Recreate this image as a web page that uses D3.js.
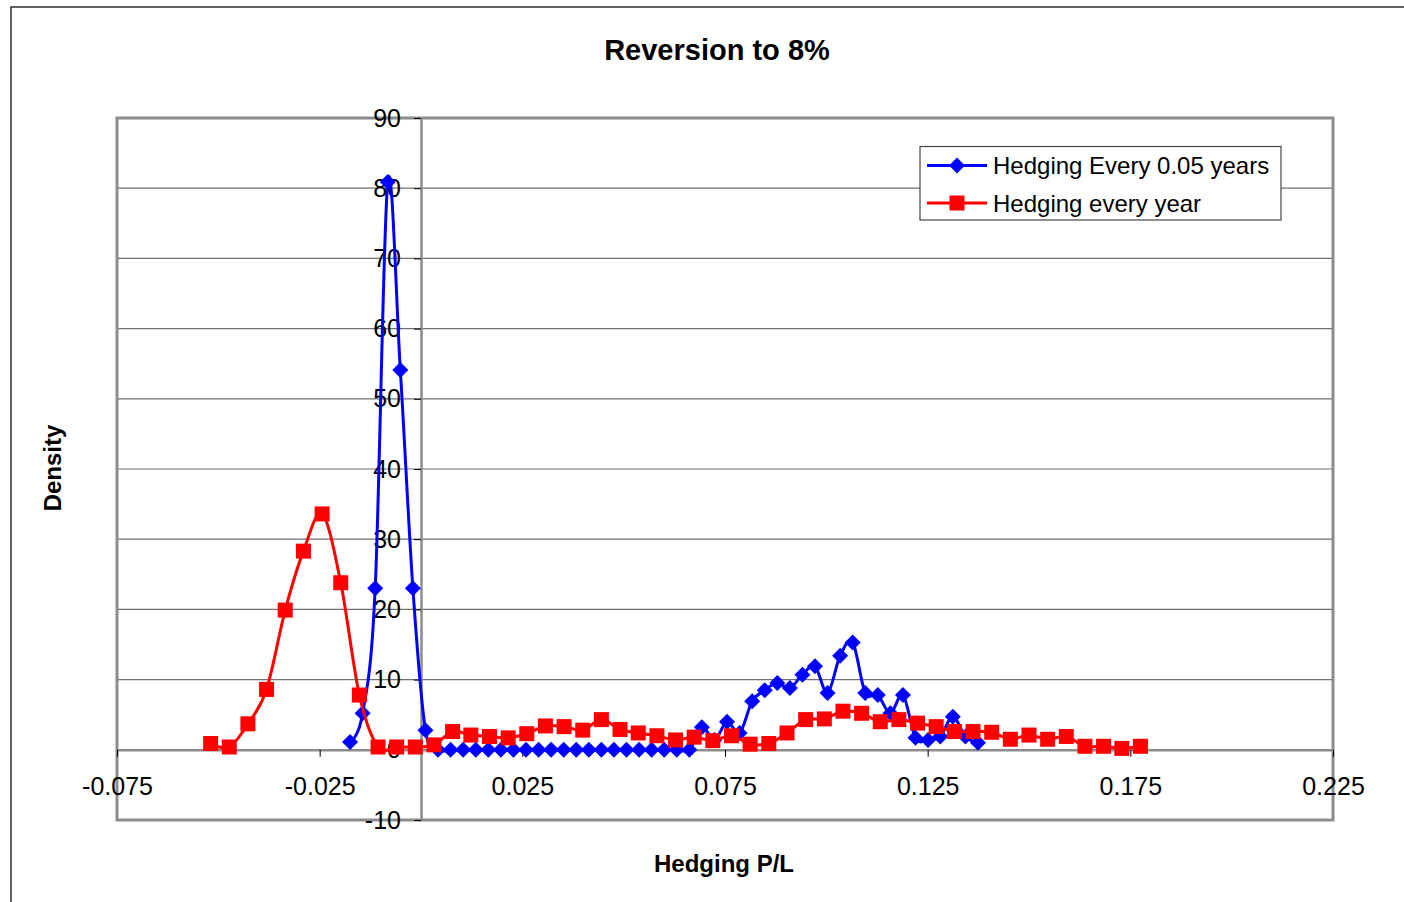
<!DOCTYPE html>
<html>
<head>
<meta charset="utf-8">
<script src="https://cdn.jsdelivr.net/npm/d3@7"></script>
<style>
  html, body { margin: 0; padding: 0; background: #fff; }
  svg { display: block; font-family: "Liberation Sans", Arial, Helvetica, sans-serif; }
</style>
</head>
<body>
<svg id="chart" width="1404" height="902"></svg>
<script>
// ---- Data ----
const chartTitle = "Reversion to 8%";
const xTitle = "Hedging P/L";
const yTitle = "Density";
const seriesNames = ["Hedging Every 0.05 years", "Hedging every year"];

const xTickValues = [-0.075, -0.025, 0.025, 0.075, 0.125, 0.175, 0.225];
const xTickLabels = ["-0.075", "-0.025", "0.025", "0.075", "0.125", "0.175", "0.225"];
const yTickValues = [-10, 0, 10, 20, 30, 40, 50, 60, 70, 80, 90];
const yTickLabels = ["-10", "0", "10", "20", "30", "40", "50", "60", "70", "80", "90"];

// Hedging every 0.05 years (blue)
const blueX = [-0.0175, -0.0144, -0.0113, -0.0082, -0.0051, -0.0020, 0.0011, 0.0042, 0.0073, 0.0104,
               0.0135, 0.0166, 0.0197, 0.0228, 0.0259, 0.0290, 0.0321, 0.0352, 0.0383, 0.0414,
               0.0445, 0.0476, 0.0507, 0.0538, 0.0569, 0.0600, 0.0631, 0.0662, 0.0693, 0.0724,
               0.0755, 0.0786, 0.0817, 0.0848, 0.0879, 0.0910, 0.0941, 0.0972, 0.1003, 0.1034,
               0.1065, 0.1096, 0.1127, 0.1158, 0.1189, 0.1220, 0.1251, 0.1281, 0.1312, 0.1343,
               0.1374];
const blueY = [1.1, 5.2, 23.0, 80.9, 54.1, 23.0, 2.8, 0, 0, 0,
               0, 0, 0, 0, 0, 0, 0, 0, 0, 0,
               0, 0, 0, 0, 0, 0, 0, 0, 3.2, 1.4,
               4.0, 2.4, 6.9, 8.5, 9.5, 8.8, 10.7, 11.9, 8.1, 13.4,
               15.3, 8.1, 7.8, 5.2, 7.8, 1.7, 1.4, 1.9, 4.7, 1.9,
               1.0];

// Hedging every year (red)
const redX = [-0.0519, -0.0473, -0.0427, -0.0381, -0.0335, -0.0290, -0.0244, -0.0198, -0.0152, -0.0106,
              -0.0060, -0.0014, 0.0032, 0.0078, 0.0123, 0.0169, 0.0215, 0.0261, 0.0307, 0.0353,
              0.0399, 0.0445, 0.0491, 0.0536, 0.0582, 0.0628, 0.0674, 0.0720, 0.0766, 0.0812,
              0.0858, 0.0903, 0.0949, 0.0995, 0.1041, 0.1087, 0.1133, 0.1179, 0.1225, 0.1271,
              0.1316, 0.1362, 0.1408, 0.1454, 0.1500, 0.1546, 0.1592, 0.1638, 0.1684, 0.1729,
              0.1775];
const redY = [0.9, 0.4, 3.7, 8.6, 19.9, 28.3, 33.6, 23.8, 7.8, 0.4,
              0.4, 0.4, 0.7, 2.6, 2.1, 1.9, 1.7, 2.3, 3.4, 3.3,
              2.8, 4.3, 2.9, 2.4, 2.0, 1.4, 1.8, 1.3, 2.0, 0.8,
              0.9, 2.4, 4.3, 4.4, 5.5, 5.2, 4.0, 4.3, 3.8, 3.3,
              2.6, 2.6, 2.5, 1.5, 2.1, 1.5, 1.9, 0.5, 0.5, 0.2,
              0.5];

// ---- Layout ----
const svg = d3.select("#chart");
const plot = { left: 117, right: 1333, top: 118, bottom: 820 };
const x = d3.scaleLinear().domain([-0.075, 0.225]).range([plot.left, plot.right]);
const y = d3.scaleLinear().domain([-10, 90]).range([plot.bottom, plot.top]);

// outer chart border
svg.append("rect")
  .attr("x", 11).attr("y", 7).attr("width", 1430).attr("height", 930)
  .attr("fill", "#fff").attr("stroke", "#3c3c3c").attr("stroke-width", 1.6);

// gridlines
svg.append("g").selectAll("line")
  .data(yTickValues.filter(v => v > 0 && v < 90))
  .join("line")
  .attr("x1", plot.left).attr("x2", plot.right)
  .attr("y1", d => y(d)).attr("y2", d => y(d))
  .attr("stroke", "#707070").attr("stroke-width", 1.2);

// plot area border
svg.append("rect")
  .attr("x", plot.left).attr("y", plot.top)
  .attr("width", plot.right - plot.left).attr("height", plot.bottom - plot.top)
  .attr("fill", "none").attr("stroke", "#8c8c8c").attr("stroke-width", 3);

// x axis at y = 0
const xAxis = d3.axisBottom(x)
  .tickValues(xTickValues)
  .tickFormat((d, i) => xTickLabels[i])
  .tickSizeInner(7).tickSizeOuter(0).tickPadding(20);
const gx = svg.append("g").attr("transform", `translate(0,${y(0)})`).call(xAxis);
gx.select(".domain").attr("stroke", "#8c8c8c").attr("stroke-width", 2.5);
gx.selectAll(".tick line").attr("stroke", "#000").attr("stroke-width", 1);
gx.selectAll(".tick text").attr("font-size", 25).attr("fill", "#000")
  .attr("font-family", "'Liberation Sans', Arial, sans-serif");

// y axis at x = 0
const yAxis = d3.axisLeft(y)
  .tickValues(yTickValues)
  .tickFormat((d, i) => yTickLabels[i])
  .tickSizeInner(7).tickSizeOuter(0).tickPadding(13);
const gy = svg.append("g").attr("transform", `translate(${x(0)},0)`).call(yAxis);
gy.select(".domain").attr("stroke", "#8c8c8c").attr("stroke-width", 2.5);
gy.selectAll(".tick line").attr("stroke", "#000").attr("stroke-width", 1);
gy.selectAll(".tick text").attr("font-size", 25).attr("fill", "#000")
  .attr("font-family", "'Liberation Sans', Arial, sans-serif");

// series
const line = d3.line()
  .x(d => x(d[0])).y(d => y(d[1]))
  .curve(d3.curveCatmullRom.alpha(0));

const blueData = blueX.map((v, i) => [v, blueY[i]]);
const redData = redX.map((v, i) => [v, redY[i]]);

const diamond = (s) => `M0,${-s}L${s},0L0,${s}L${-s},0Z`;
const square = (s) => `M${-s},${-s}H${s}V${s}H${-s}Z`;

function drawSeries(data, color, markerPath) {
  const g = svg.append("g");
  g.append("path").datum(data)
    .attr("d", line).attr("fill", "none")
    .attr("stroke", color).attr("stroke-width", 3).attr("stroke-linejoin", "round");
  g.selectAll("path.m").data(data).join("path")
    .attr("class", "m")
    .attr("transform", d => `translate(${x(d[0])},${y(d[1])})`)
    .attr("d", markerPath)
    .attr("fill", color);
}
drawSeries(blueData, "#0000ff", diamond(8));
drawSeries(redData, "#ff0000", square(7.5));

// legend
const lg = svg.append("g");
lg.append("rect").attr("x", 920).attr("y", 146.5).attr("width", 361).attr("height", 73.5)
  .attr("fill", "#fff").attr("stroke", "#444").attr("stroke-width", 1.2);
const legendItems = [
  { name: seriesNames[0], color: "#0000ff", marker: diamond(8), yy: 165.5 },
  { name: seriesNames[1], color: "#ff0000", marker: square(7.5), yy: 203 }
];
legendItems.forEach(it => {
  lg.append("line").attr("x1", 927).attr("x2", 987).attr("y1", it.yy).attr("y2", it.yy)
    .attr("stroke", it.color).attr("stroke-width", 3);
  lg.append("path").attr("transform", `translate(957,${it.yy})`).attr("d", it.marker).attr("fill", it.color);
  lg.append("text").attr("x", 993).attr("y", it.yy + 8.5)
    .attr("font-size", 24).attr("fill", "#000").text(it.name);
});

// titles
svg.append("text").attr("x", 717).attr("y", 60).attr("text-anchor", "middle")
  .attr("font-size", 29).attr("font-weight", "bold").text(chartTitle);
svg.append("text").attr("x", 724).attr("y", 872).attr("text-anchor", "middle")
  .attr("font-size", 24).attr("font-weight", "bold").text(xTitle);
svg.append("text").attr("transform", "translate(61,468) rotate(-90)").attr("text-anchor", "middle")
  .attr("font-size", 24).attr("font-weight", "bold").text(yTitle);
</script>
</body>
</html>
